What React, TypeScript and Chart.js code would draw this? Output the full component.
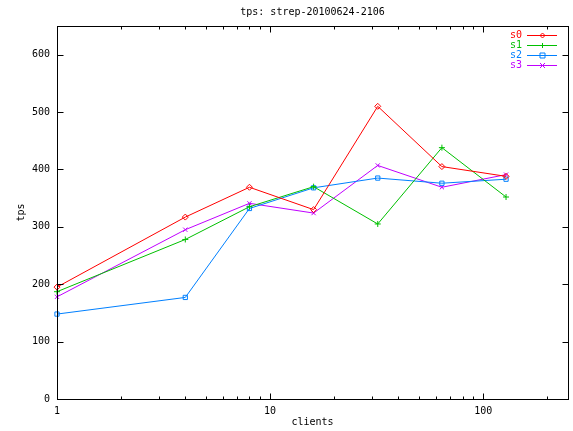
import React, { useEffect, useRef } from "react";
import { Chart, registerables } from "chart.js";

Chart.register(...registerables);

const chartTitle = "tps: strep-20100624-2106";
const xTitle = "clients";
const yTitle = "tps";
const clients = [1, 4, 8, 16, 32, 64, 128];
const seriesNames = ["s0", "s1", "s2", "s3"];
const s0 = [195, 317, 369, 330, 510, 405, 388];
const s1 = [187, 278, 335, 370, 305, 438, 352];
const s2 = [148, 177, 332, 368, 385, 376, 383];
const s3 = [178, 295, 341, 324, 407, 369, 391];
const seriesValues = [s0, s1, s2, s3];
const colors = ["#ff0000", "#00c000", "#0080ff", "#c000ff"];
const markers = ["rectRot", "cross", "rect", "crossRot"];
const xMajorTicks = [1, 10, 100];
const yTickValues = [0, 100, 200, 300, 400, 500, 600];
const xMin = 1;
const xMax = 250;
const yMin = 0;
const yMax = 650;

const FONT = "10px 'DejaVu Sans Mono', monospace";

function drawMarker(ctx: CanvasRenderingContext2D, kind: string, color: string, x: number, y: number, r: number) {
  ctx.save();
  ctx.strokeStyle = color;
  ctx.lineWidth = 1;
  ctx.beginPath();
  if (kind === "rectRot") {
    ctx.moveTo(x, y - r);
    ctx.lineTo(x + r, y);
    ctx.lineTo(x, y + r);
    ctx.lineTo(x - r, y);
    ctx.closePath();
  } else if (kind === "cross") {
    ctx.moveTo(x - r, y);
    ctx.lineTo(x + r, y);
    ctx.moveTo(x, y - r);
    ctx.lineTo(x, y + r);
  } else if (kind === "rect") {
    ctx.rect(x - r, y - r, 2 * r, 2 * r);
  } else {
    ctx.moveTo(x - r, y - r);
    ctx.lineTo(x + r, y + r);
    ctx.moveTo(x + r, y - r);
    ctx.lineTo(x - r, y + r);
  }
  ctx.stroke();
  ctx.restore();
}

const gnuplotPlugin = {
  id: "gnuplotFrame",
  beforeDraw(chart: any) {
    const ctx = chart.ctx as CanvasRenderingContext2D;
    ctx.save();
    ctx.fillStyle = "#ffffff";
    ctx.fillRect(0, 0, chart.width, chart.height);
    ctx.restore();
  },
  afterDraw(chart: any) {
    const ctx = chart.ctx as CanvasRenderingContext2D;
    const a = chart.chartArea;
    const xs = chart.scales.x;
    const ys = chart.scales.y;
    const L = Math.round(a.left) + 0.5;
    const R = Math.round(a.right) + 0.5;
    const T = Math.round(a.top) + 0.5;
    const B = Math.round(a.bottom) + 0.5;
    ctx.save();
    ctx.strokeStyle = "#000000";
    ctx.lineWidth = 1;
    ctx.strokeRect(L, T, R - L, B - T);
    ctx.beginPath();
    for (const v of yTickValues) {
      const py = Math.round(ys.getPixelForValue(v)) + 0.5;
      ctx.moveTo(L, py);
      ctx.lineTo(L + 6, py);
      ctx.moveTo(R, py);
      ctx.lineTo(R - 6, py);
    }
    for (const d of xMajorTicks) {
      for (let m = 1; m <= 9; m++) {
        const v = d * m;
        if (v < xMin || v > xMax) continue;
        const len = m === 1 ? 6 : 3;
        const px = Math.round(xs.getPixelForValue(v)) + 0.5;
        ctx.moveTo(px, B);
        ctx.lineTo(px, B - len);
        ctx.moveTo(px, T);
        ctx.lineTo(px, T + len);
      }
    }
    ctx.stroke();
    ctx.restore();

    ctx.save();
    ctx.font = FONT;
    ctx.fillStyle = "#000000";
    ctx.textAlign = "center";
    ctx.textBaseline = "middle";
    ctx.fillText(chartTitle, (a.left + a.right) / 2, 12);
    ctx.fillText(xTitle, (a.left + a.right) / 2, 422);
    ctx.save();
    ctx.translate(21, (a.top + a.bottom) / 2);
    ctx.rotate(-Math.PI / 2);
    ctx.fillText(yTitle, 0, 0);
    ctx.restore();

    for (let i = 0; i < seriesNames.length; i++) {
      const ly = 35 + i * 10;
      ctx.fillStyle = colors[i];
      ctx.textAlign = "right";
      ctx.fillText(seriesNames[i], 522, ly);
      ctx.fillRect(527, Math.round(ly), 30, 1);
      drawMarker(ctx, markers[i], colors[i], 542.5, Math.round(ly) + 0.5, 2.5);
    }
    ctx.restore();
  },
};

export default function App() {
  const ref = useRef<HTMLCanvasElement | null>(null);
  useEffect(() => {
    if (!ref.current) return;
    const chart = new Chart(ref.current, {
      type: "line",
      data: {
        datasets: seriesValues.map((vals, i) => ({
          label: seriesNames[i],
          data: clients.map((c, j) => ({ x: c, y: vals[j] })),
          borderColor: colors[i],
          backgroundColor: "transparent",
          borderWidth: 1,
          pointStyle: markers[i] as any,
          pointRadius: 3,
          pointBorderWidth: 1,
          pointBorderColor: colors[i],
          pointBackgroundColor: "transparent",
          tension: 0,
          fill: false,
          clip: false,
        })),
      },
      options: {
        responsive: false,
        animation: false,
        events: [],
        layout: { padding: { top: 26, right: 4, left: 0, bottom: 0 } },
        plugins: {
          legend: { display: false },
          title: { display: false },
          tooltip: { enabled: false },
        },
        scales: {
          x: {
            type: "logarithmic",
            min: xMin,
            max: xMax,
            grid: { display: false, drawTicks: false },
            border: { display: false },
            afterFit: (s: any) => {
              s.height = 32;
            },
            afterBuildTicks: (s: any) => {
              s.ticks = xMajorTicks.map((v) => ({ value: v }));
            },
            ticks: {
              autoSkip: false,
              maxRotation: 0,
              minRotation: 0,
              padding: 6,
              color: "#000000",
              font: { family: "'DejaVu Sans Mono', monospace", size: 10 },
              callback: (v: any) => String(v),
            },
          },
          y: {
            type: "linear",
            min: yMin,
            max: yMax,
            grid: { display: false, drawTicks: false },
            border: { display: false },
            afterFit: (s: any) => {
              s.width = 57;
            },
            afterBuildTicks: (s: any) => {
              s.ticks = yTickValues.map((v) => ({ value: v }));
            },
            ticks: {
              padding: 7,
              color: "#000000",
              font: { family: "'DejaVu Sans Mono', monospace", size: 10 },
              callback: (v: any) => String(v),
            },
          },
        },
      },
      plugins: [gnuplotPlugin],
    } as any);
    return () => chart.destroy();
  }, []);
  return (
    <div style={{ position: "fixed", left: 0, top: 0, width: 573, height: 431, background: "#fff" }}>
      <canvas ref={ref} width={573} height={431} style={{ display: "block" }} />
    </div>
  );
}
